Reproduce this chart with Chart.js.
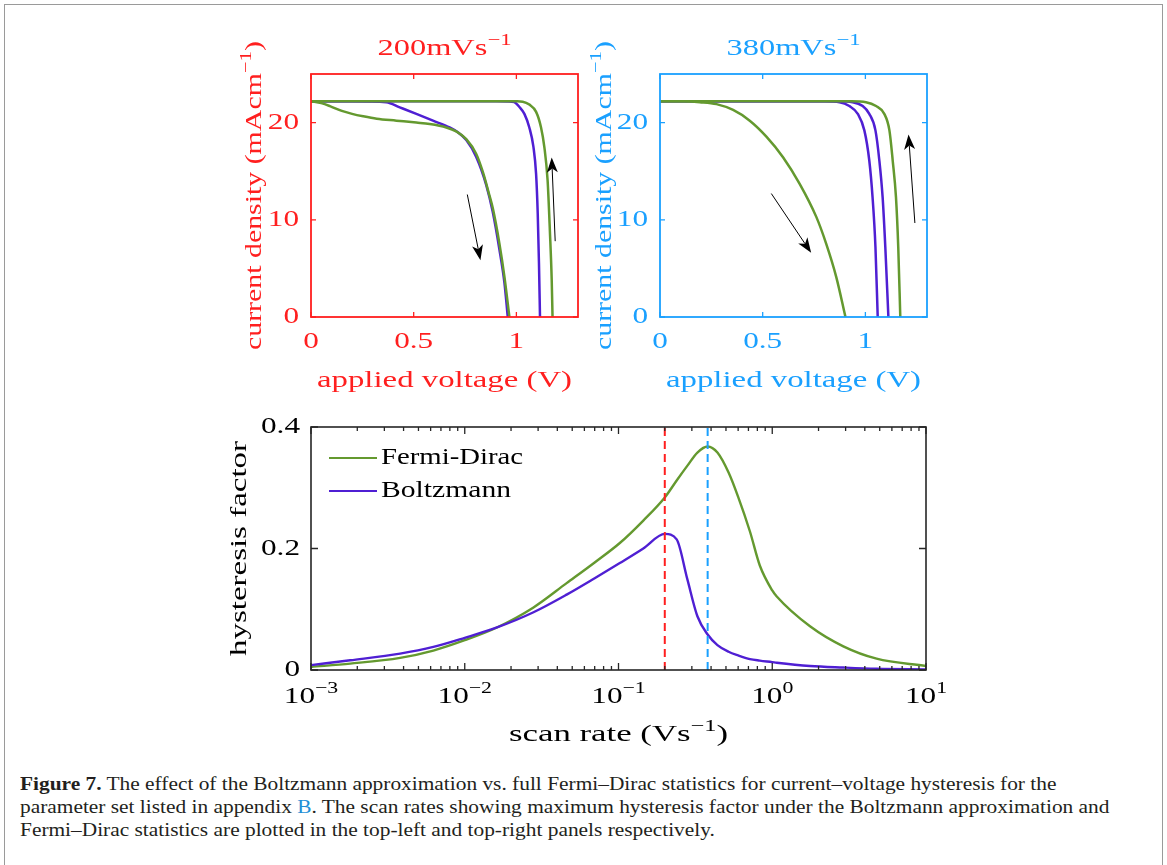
<!DOCTYPE html>
<html><head><meta charset="utf-8">
<script src="https://cdn.jsdelivr.net/npm/chart.js@4.4.1/dist/chart.umd.min.js"></script>
<style>
html,body{margin:0;padding:0;background:#fff;}
#page{position:relative;width:1167px;height:865px;overflow:hidden;background:#fff;}
#frame{position:absolute;left:4px;top:4px;width:1159px;height:900px;border:1.5px solid #9a9a9a;box-sizing:border-box;}
canvas{position:absolute;}
#cap{position:absolute;left:20px;top:772px;font-family:'Liberation Serif',serif;font-size:19px;line-height:23px;color:#231f20;white-space:nowrap;transform:scaleX(1.125);transform-origin:0 0;}
#cap b{font-weight:bold;}
#cap .lnk{color:#1f8fd6;}
</style></head><body>
<div id="page">
<div id="frame"></div>
<canvas id="c1" width="370" height="390" style="left:220px;top:20px"></canvas>
<canvas id="c2" width="350" height="390" style="left:590px;top:20px"></canvas>
<canvas id="c3" width="760" height="360" style="left:220px;top:405px"></canvas>
<div id="cap"><b>Figure 7.</b> The effect of the Boltzmann approximation vs. full Fermi–Dirac statistics for current–voltage hysteresis for the<br>parameter set listed in appendix <span class="lnk">B</span>. The scan rates showing maximum hysteresis factor under the Boltzmann approximation and<br>Fermi–Dirac statistics are plotted in the top-left and top-right panels respectively.</div>
</div>
<script>
// ---------------- DATA ----------------
// Top-left panel: 200 mV/s
const p200Title = '200mVs^{−1}';
const p200BoltzA_V = [0, 0.2, 0.367, 0.432, 0.513, 0.594, 0.675, 0.715, 0.756, 0.804, 0.853, 0.885, 0.917, 0.942, 0.958];
const p200BoltzA_J = [22.2, 22.2, 22.1, 21.57, 20.9, 20.2, 19.5, 19.0, 18.2, 16.5, 13.6, 10.8, 7.0, 3.5, 0];
const p200FermiA_V = [0, 0.05, 0.092, 0.15, 0.2, 0.254, 0.32, 0.416, 0.513, 0.578, 0.659, 0.707, 0.756, 0.804, 0.837, 0.865, 0.885, 0.917, 0.942, 0.966];
const p200FermiA_J = [22.2, 22.0, 21.7, 21.2, 20.9, 20.65, 20.4, 20.2, 20.0, 19.85, 19.5, 19.1, 18.3, 16.8, 14.9, 12.8, 11.2, 7.6, 4.1, 0];
const p200BoltzB_V = [0, 0.5, 0.9, 0.96, 0.99, 1.015, 1.039, 1.063, 1.083, 1.096, 1.104, 1.110, 1.115];
const p200BoltzB_J = [22.2, 22.2, 22.2, 22.18, 22.1, 21.6, 20.9, 19.5, 17.5, 14.7, 10.6, 5.5, 0];
const p200FermiB_V = [0, 0.5, 0.95, 1.0, 1.031, 1.063, 1.096, 1.12, 1.136, 1.152, 1.163, 1.172, 1.176];
const p200FermiB_J = [22.2, 22.2, 22.2, 22.19, 22.15, 21.85, 21.1, 19.5, 17.5, 14.05, 8.9, 3.8, 0];
const p200Arrows = [[0.761, 12.6, 0.825, 5.85], [1.189, 7.8, 1.172, 16.4]];

// Top-right panel: 380 mV/s
const p380Title = '380mVs^{−1}';
const p380FermiA_V = [0, 0.12, 0.194, 0.275, 0.356, 0.437, 0.518, 0.599, 0.680, 0.761, 0.809, 0.858, 0.903];
const p380FermiA_J = [22.2, 22.19, 22.1, 21.9, 21.3, 20.2, 18.56, 16.44, 13.7, 10.3, 7.55, 4.13, 0];
const p380BoltzA_V = [0, 0.5, 0.8, 0.874, 0.922, 0.963, 0.995, 1.019, 1.035, 1.049, 1.060];
const p380BoltzA_J = [22.2, 22.2, 22.19, 22.1, 21.7, 20.9, 19.2, 16.1, 12.3, 7.2, 0];
const p380BoltzB_V = [0, 0.5, 0.86, 0.938, 0.987, 1.019, 1.049, 1.068, 1.084, 1.097, 1.112];
const p380BoltzB_J = [22.2, 22.2, 22.19, 22.1, 21.7, 20.9, 19.2, 16.1, 12.3, 7.2, 0];
const p380FermiB_V = [0, 0.5, 0.93, 1.003, 1.052, 1.092, 1.117, 1.133, 1.149, 1.160, 1.170];
const p380FermiB_J = [22.2, 22.2, 22.19, 22.1, 21.7, 20.9, 19.2, 16.1, 12.3, 7.2, 0];
const p380Arrows = [[0.542, 12.7, 0.736, 6.6], [1.241, 9.67, 1.210, 18.77]];

// I-V axes
const ivXTicks = [0, 0.5, 1];
const ivXLabels = ['0', '0.5', '1'];
const ivYTicks = [0, 10, 20];
const ivYLabels = ['0', '10', '20'];
const ivXTitle = 'applied voltage (V)';
const ivYTitle = 'current density (mAcm^{−1})';

// Bottom panel: hysteresis factor vs scan rate
const seriesNames = ['Fermi-Dirac', 'Boltzmann'];
const scanRate = [0.001, 0.0018, 0.0038, 0.00625, 0.01, 0.0162, 0.028, 0.046, 0.07, 0.102, 0.145, 0.2, 0.239, 0.28, 0.326, 0.38, 0.44, 0.52, 0.6, 0.716, 0.83, 1.0, 1.07, 1.76, 2.9, 4.77, 10];
const hfFermi = [0.005, 0.0105, 0.020, 0.032, 0.049, 0.070, 0.103, 0.143, 0.177, 0.209, 0.246, 0.284, 0.312, 0.336, 0.358, 0.368, 0.358, 0.325, 0.285, 0.228, 0.172, 0.131, 0.121, 0.072, 0.039, 0.0187, 0.0066];
const hfBoltz = [0.008, 0.016, 0.027, 0.038, 0.053, 0.070, 0.095, 0.124, 0.151, 0.176, 0.200, 0.224, 0.215, 0.150, 0.0885, 0.0585, 0.041, 0.030, 0.024, 0.018, 0.0155, 0.013, 0.012, 0.0066, 0.004, 0.002, 0.001];
const markedRates = [0.2, 0.38];
const hfXTicks = [0.001, 0.01, 0.1, 1, 10];
const hfXLabels = ['10^{−3}', '10^{−2}', '10^{−1}', '10^{0}', '10^{1}'];
const hfYTicks = [0, 0.2, 0.4];
const hfYLabels = ['0', '0.2', '0.4'];
const hfXTitle = 'scan rate (Vs^{−1})';
const hfYTitle = 'hysteresis factor';

// ---------------- STYLE ----------------
const RED = '#ff1f1f', SKY = '#1aa0ff', GREEN = '#64992f', PURPLE = '#4f1fd3', INK = '#262626';
const SX = 1.3, FS = 24;
const FONT = '"Liberation Serif", serif';

function parseRich(s){
  const parts=[]; const re=/\^\{([^}]*)\}/g; let last=0, m;
  while((m=re.exec(s))){ if(m.index>last) parts.push({t:s.slice(last,m.index),sup:false}); parts.push({t:m[1],sup:true}); last=re.lastIndex; }
  if(last<s.length) parts.push({t:s.slice(last),sup:false});
  return parts;
}
function drawRich(ctx, s, x, y, o){
  const parts=parseRich(s), size=o.size||FS;
  ctx.save();
  const f=(sz)=>sz+'px '+FONT;
  let w=0;
  parts.forEach(p=>{ctx.font=f(p.sup?size*0.7:size); p.w=ctx.measureText(p.t).width; w+=p.w;});
  const sx = o.width ? o.width/w : (o.sx||SX);
  ctx.translate(x,y);
  if(o.rot) ctx.rotate(o.rot);
  ctx.scale(sx,1);
  let cx = o.align==='center'? -w/2 : (o.align==='right'? -w : 0);
  ctx.fillStyle=o.color; ctx.textBaseline='middle'; ctx.textAlign='left';
  parts.forEach(p=>{ctx.font=f(p.sup?size*0.7:size); ctx.fillText(p.t,cx,p.sup?-size*0.36:0); cx+=p.w;});
  ctx.restore();
}
function drawArrow(ctx,x0,y0,x1,y1){
  const ang=Math.atan2(y1-y0,x1-x0), L=15, W=5.5, N=4;
  ctx.save();
  ctx.strokeStyle='#000'; ctx.fillStyle='#000'; ctx.lineWidth=1;
  ctx.beginPath(); ctx.moveTo(x0,y0); ctx.lineTo(x1-Math.cos(ang)*(L-N), y1-Math.sin(ang)*(L-N)); ctx.stroke();
  ctx.translate(x1,y1); ctx.rotate(ang);
  ctx.beginPath(); ctx.moveTo(0,0); ctx.lineTo(-L,-W); ctx.lineTo(-L+N,0); ctx.lineTo(-L,W); ctx.closePath(); ctx.fill();
  ctx.restore();
}

const decoCfg = {};
const deco = {
  id:'deco',
  afterDatasetsDraw(chart){
    const o=decoCfg[chart.canvas.id]; if(!o) return;
    const ctx=chart.ctx, a=chart.chartArea, xs=chart.scales.x, ys=chart.scales.y;
    ctx.save();
    (o.arrows||[]).forEach(r=>drawArrow(ctx, xs.getPixelForValue(r[0]), ys.getPixelForValue(r[1]), xs.getPixelForValue(r[2]), ys.getPixelForValue(r[3])));
    ctx.strokeStyle=o.color; ctx.lineWidth=1.3;
    ctx.beginPath();
    o.xTicks.forEach(v=>{const p=xs.getPixelForValue(v); ctx.moveTo(p,a.bottom); ctx.lineTo(p,a.bottom-o.tick); ctx.moveTo(p,a.top); ctx.lineTo(p,a.top+o.tick);});
    (o.xMinor||[]).forEach(v=>{const p=xs.getPixelForValue(v); ctx.moveTo(p,a.bottom); ctx.lineTo(p,a.bottom-o.minor); ctx.moveTo(p,a.top); ctx.lineTo(p,a.top+o.minor);});
    o.yTicks.forEach(v=>{const p=ys.getPixelForValue(v); ctx.moveTo(a.left,p); ctx.lineTo(a.left+o.tick,p); ctx.moveTo(a.right,p); ctx.lineTo(a.right-o.tick,p);});
    ctx.stroke();
    ctx.lineWidth=o.boxW;
    ctx.strokeRect(a.left,a.top,a.right-a.left,a.bottom-a.top);
    o.xTicks.forEach((v,i)=>drawRich(ctx,o.xLabels[i],xs.getPixelForValue(v),a.bottom+o.xLabOff,{color:o.text,align:'center'}));
    o.yTicks.forEach((v,i)=>drawRich(ctx,o.yLabels[i],a.left-o.yLabOff,ys.getPixelForValue(v),{color:o.text,align:'right'}));
    if(o.title) drawRich(ctx,o.title,(a.left+a.right)/2,a.top-o.titleOff,{color:o.text,align:'center',width:o.titleW});
    drawRich(ctx,o.xTitle,(a.left+a.right)/2,a.bottom+o.xTitleOff,{color:o.text,align:'center',width:o.xTitleW});
    drawRich(ctx,o.yTitle,a.left-o.yTitleOff,(a.top+a.bottom)/2,{color:o.text,align:'center',rot:-Math.PI/2,width:o.yTitleW});
    (o.legend||[]).forEach((e,i)=>{
      const y=a.top+o.legTop+i*o.legStep;
      ctx.strokeStyle=e.color; ctx.lineWidth=2.2;
      ctx.beginPath(); ctx.moveTo(a.left+o.legX0,y); ctx.lineTo(a.left+o.legX1,y); ctx.stroke();
      drawRich(ctx,e.label,a.left+o.legTX,y,{color:'#000',align:'left',width:e.w});
    });
    ctx.restore();
  }
};

function pts(xs,ys){ return xs.map((x,i)=>({x:x,y:ys[i]})); }
function line(xs,ys,color,order){
  return {data:pts(xs,ys),borderColor:color,borderWidth:2.5,pointRadius:0,fill:false,
    cubicInterpolationMode:'monotone',order:order};
}
function ivChart(id,pad,color,datasets,title,arrows,yTitleOff){
  decoCfg[id]={color:color,text:color,xTicks:ivXTicks,xLabels:ivXLabels,yTicks:ivYTicks,yLabels:ivYLabels,
    tick:5,boxW:1.8,xLabOff:25,yLabOff:12,title:title,titleOff:25,titleW:134,xTitle:ivXTitle,xTitleOff:64,xTitleW:255,
    yTitle:ivYTitle,yTitleOff:yTitleOff,yTitleW:309,arrows:arrows};
  return new Chart(document.getElementById(id),{
    type:'line',
    data:{datasets:datasets},
    options:{responsive:false,animation:false,
      layout:{padding:pad},
      plugins:{legend:{display:false},tooltip:{enabled:false},title:{display:false}},
      scales:{x:{type:'linear',min:0,max:1.3,display:false},y:{type:'linear',min:0,max:25,display:false}}},
    plugins:[deco]
  });
}

ivChart('c1',{left:91,top:54,right:12,bottom:93},RED,[
  line(p200FermiA_V,p200FermiA_J,GREEN,1),
  line(p200FermiB_V,p200FermiB_J,GREEN,1),
  line(p200BoltzA_V,p200BoltzA_J,PURPLE,2),
  line(p200BoltzB_V,p200BoltzB_J,PURPLE,2)
],p200Title,p200Arrows,56);

ivChart('c2',{left:70,top:54,right:13,bottom:93},SKY,[
  line(p380FermiA_V,p380FermiA_J,GREEN,1),
  line(p380FermiB_V,p380FermiB_J,GREEN,1),
  line(p380BoltzA_V,p380BoltzA_J,PURPLE,2),
  line(p380BoltzB_V,p380BoltzB_J,PURPLE,2)
],p380Title,p380Arrows,55);

const minorLog=[];
for(let e=-3;e<1;e++){ for(let k=2;k<=9;k++) minorLog.push(k*Math.pow(10,e)); }
decoCfg['c3']={color:INK,text:'#000',xTicks:hfXTicks,xLabels:hfXLabels,yTicks:hfYTicks,yLabels:hfYLabels,
  xMinor:minorLog,tick:7,minor:4,boxW:1.6,xLabOff:27,yLabOff:11,xTitle:hfXTitle,xTitleOff:65,xTitleW:219,
  yTitle:hfYTitle,yTitleOff:71,yTitleW:215,
  legend:[{label:seriesNames[0],color:GREEN,w:142},{label:seriesNames[1],color:PURPLE,w:130}],
  legTop:31,legStep:33,legX0:18,legX1:66,legTX:70};
const vlineSets = markedRates.map((r,i)=>({data:[{x:r,y:0},{x:r,y:0.4}],borderColor:i===0?RED:SKY,borderWidth:2,
  borderDash:[8,5],pointRadius:0,fill:false,order:0}));
new Chart(document.getElementById('c3'),{
  type:'line',
  data:{datasets:[
    ...vlineSets,
    {data:pts(scanRate,hfBoltz),borderColor:PURPLE,borderWidth:2.4,pointRadius:0,fill:false,cubicInterpolationMode:'monotone',order:1},
    {data:pts(scanRate,hfFermi),borderColor:GREEN,borderWidth:2.4,pointRadius:0,fill:false,cubicInterpolationMode:'monotone',order:2}
  ]},
  options:{responsive:false,animation:false,
    layout:{padding:{left:91,top:22,right:54,bottom:95}},
    plugins:{legend:{display:false},tooltip:{enabled:false},title:{display:false}},
    scales:{x:{type:'logarithmic',min:0.001,max:10,display:false},y:{type:'linear',min:0,max:0.4,display:false}}},
  plugins:[deco]
});
</script>
</body></html>
